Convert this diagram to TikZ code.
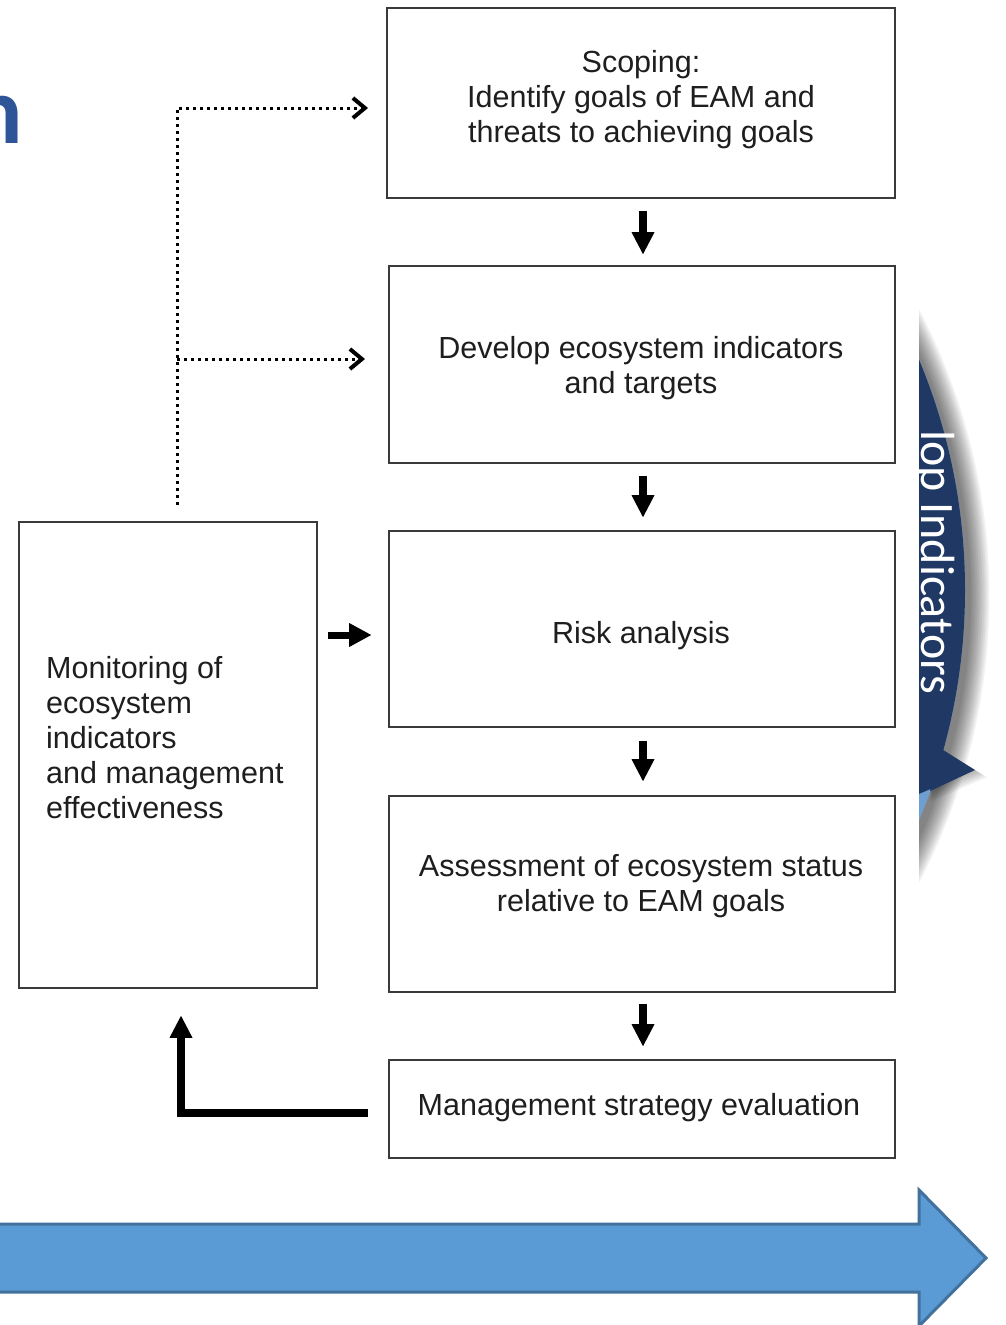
\documentclass[tikz,border=0pt]{standalone}
\usepackage{fontspec}
\setmainfont{Liberation Sans}
\newfontfamily\calibri{Carlito}
\usetikzlibrary{arrows.meta,calc}
\definecolor{navy}{HTML}{1F3864}
\definecolor{segblue}{HTML}{6E9FD0}
\definecolor{arrowfill}{HTML}{5B9BD5}
\definecolor{arrowedge}{HTML}{41719C}
\definecolor{titleblue}{HTML}{2E5597}
\definecolor{boxline}{HTML}{3A3A3A}
\definecolor{txt}{HTML}{1E1E1E}
\begin{document}
\begin{tikzpicture}[x=1pt,y=-1pt,
 stagebox/.style={draw=boxline, line width=1.6pt, inner sep=0pt},
 stagetext/.style={text=txt, font=\fontsize{30.5}{35}\selectfont, align=center, inner sep=0pt},
 fatarrow/.style={line width=8pt, -{Triangle[width=23pt,length=22pt,line width=0pt]}},
 dotarrow/.style={line width=3pt, dash pattern=on 3pt off 4pt, -{Straight Barb[width=20pt,length=12pt,line width=4pt]}},
]
\useasboundingbox (0,0) rectangle (1005,1325);
\fill[white] (0,0) rectangle (1005,1325);

% title fragment
\begin{scope}
\clip (0,0) rectangle (1005,1325);
\node[font=\calibri\bfseries\fontsize{96}{96}\selectfont, text=titleblue, anchor=base east, inner sep=0pt] (title) at (23,143) {n};
\end{scope}

% circular segment on the right
\begin{scope}
\clip (919,0) rectangle (1005,1185);
\foreach \i in {1,...,12} \fill[black,opacity=0.05] (371,596) circle ({598+1.7*\i});
\foreach \i in {2,4,...,12} \fill[black,opacity=0.05] (940,750) -- (975+\i,770+0.6*\i) -- (930,790+\i) -- cycle;
\fill[segblue] (367,590) circle (598);
\begin{scope}
\clip (367,590) circle (598);
\fill[navy] (900,0) -- (1005,0) -- (1005,770) -- (975,770) -- (900,802) -- cycle;
\end{scope}
\fill[navy] (940,748) -- (975,770) -- (930,791) -- cycle;
\node[font=\calibri\fontsize{48}{48}\selectfont, text=white, rotate=-90, anchor=base west, inner sep=0pt] (seglabel) at (921,430) {lop Indicators};
\end{scope}

% boxes
\node[stagebox, minimum width=508pt, minimum height=190pt] (scope) at (641,103) {};
\node[stagebox, minimum width=506pt, minimum height=197pt] (dev) at (642,364.5) {};
\node[stagebox, minimum width=506pt, minimum height=196pt] (risk) at (642,629) {};
\node[stagebox, minimum width=506pt, minimum height=196pt] (assess) at (642,894) {};
\node[stagebox, minimum width=506pt, minimum height=98pt] (mgmt) at (642,1109) {};
\node[stagebox, minimum width=298pt, minimum height=466pt] (mon) at (168,755) {};

% texts
\node[stagetext] (scopet) at (641,100) {Scoping:\\Identify goals of EAM and\\threats to achieving goals};
\node[stagetext] (devt) at (641,368) {Develop ecosystem indicators\\and targets};
\node[stagetext] (riskt) at (641,636) {Risk analysis};
\node[stagetext] (assesst) at (641,886) {Assessment of ecosystem status\\relative to EAM goals};
\node[stagetext] (mgmtt) at (639,1108) {Management strategy evaluation};
\node[stagetext, align=left, anchor=west] (mont) at (46,738) {Monitoring of\\ecosystem\\indicators\\and management\\effectiveness};

% down arrows
\draw[fatarrow, shorten <=12pt, shorten >=11pt] ([xshift=2pt]scope.south) -- ([xshift=2pt]scope.south |- dev.north);
\draw[fatarrow, shorten <=12pt, shorten >=13pt] ([xshift=1pt]dev.south) -- ([xshift=1pt]dev.south |- risk.north);
\draw[fatarrow, shorten <=13pt, shorten >=14pt] ([xshift=1pt]risk.south) -- ([xshift=1pt]risk.south |- assess.north);
\draw[fatarrow, shorten <=11pt, shorten >=13pt] ([xshift=1pt]assess.south) -- ([xshift=1pt]assess.south |- mgmt.north);

% monitoring -> risk
\draw[line width=7pt, -{Triangle[width=24pt,length=22pt,line width=0pt]}, shorten <=10pt, shorten >=17pt] ([yshift=-6pt]mon.east |- risk.west) -- ([yshift=-6pt]risk.west);

% dotted feedback
\coordinate (fb) at (177,505);
\coordinate (t1) at (368,108);
\coordinate (t2) at (365,359);
\draw[dotarrow] (fb) |- (t1);
\draw[dotarrow] (fb |- t2) -- (t2);

% management -> monitoring
\coordinate (lstart) at (368,1113);
\draw[line width=8pt, line join=miter, -{Triangle[width=23pt,length=22pt,line width=0pt]}] (lstart) -| ([xshift=13pt,yshift=-27pt]mon.south);

% big blue arrow
\draw[fill=arrowfill, draw=arrowedge, line width=3pt, line join=miter] (-10,1224) -- (919,1224) -- (919,1190) -- (986,1258) -- (919,1326) -- (919,1292) -- (-10,1292) -- cycle;
\end{tikzpicture}
\end{document}
